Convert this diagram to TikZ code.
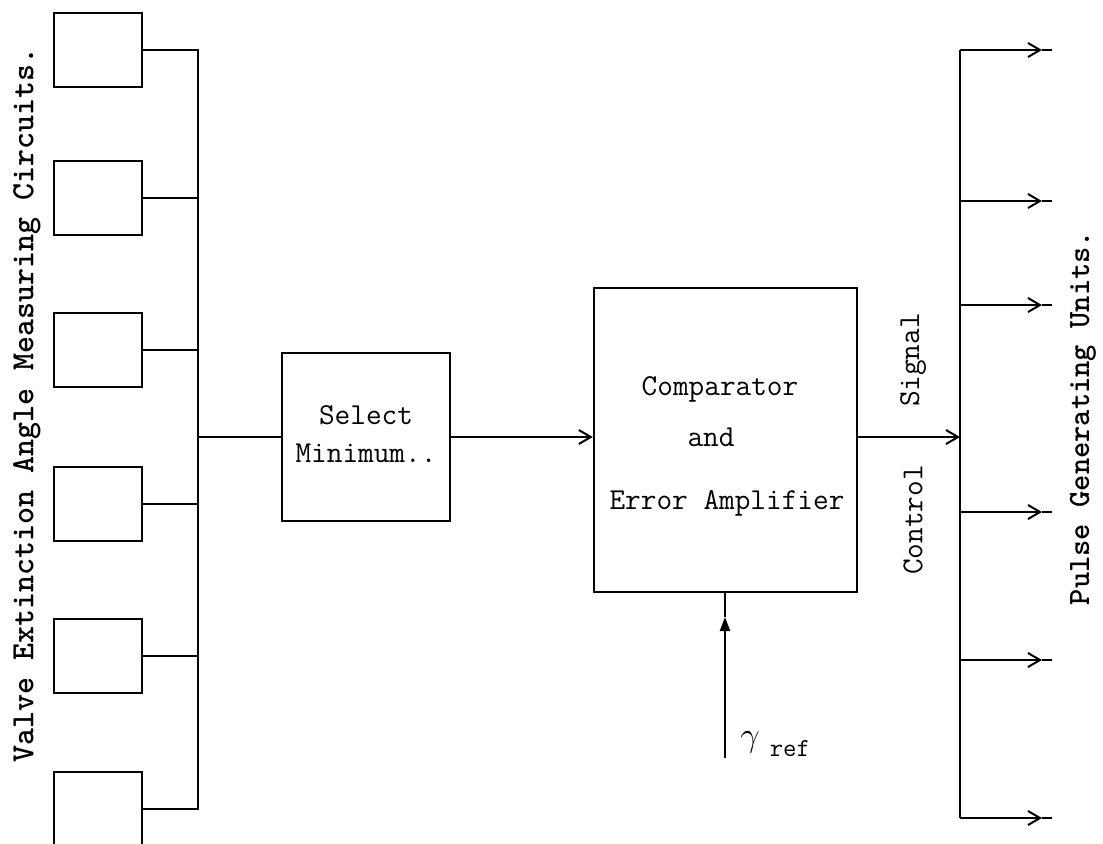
\documentclass[tikz,border=0pt]{standalone}
\usepackage{fontspec}
\usetikzlibrary{arrows.meta}
\begin{document}
\begin{tikzpicture}[x=0.5pt,y=-0.5pt,
  ln/.style={line width=1.1pt},
  blk/.style={draw,line width=1.2pt,minimum width=44pt,minimum height=37pt,inner sep=0pt},
  txt/.style={font=\ttfamily\fontsize{15.2}{19}\selectfont,inner sep=0pt},
  lbl/.style={font=\ttfamily\bfseries\fontsize{16.2}{19}\selectfont,rotate=90,inner sep=0pt},
  barb/.style={-{Straight Barb[length=6pt,width=7pt,line width=1pt]}},
  tri/.style={-{Triangle[length=7pt,width=5pt]}}
]
\useasboundingbox (0,0) rectangle (1103,843);
% left measuring circuits
\node[blk] (b1) at (98,50) {};
\node[blk] (b2) at (98,198) {};
\node[blk] (b3) at (98,350) {};
\node[blk] (b4) at (98,504) {};
\node[blk] (b5) at (98,656) {};
\node[blk] (b6) at (98,809) {};
\coordinate (busx) at (198,0);
\draw[ln] (b1.east) -- (b1.east -| busx) -- (b6.east -| busx) -- (b6.east);
\draw[ln] (b2.east) -- (b2.east -| busx);
\draw[ln] (b3.east) -- (b3.east -| busx);
\draw[ln] (b4.east) -- (b4.east -| busx);
\draw[ln] (b5.east) -- (b5.east -| busx);
% select minimum
\node[draw,line width=1.2pt,minimum width=84pt,minimum height=84pt,inner sep=0pt] (sel) at (366,437) {};
\node[txt,align=center] (seltxt) at (366,434) {Select\\Minimum..};
\draw[ln] (sel.west -| busx) -- (sel.west);
% comparator
\node[draw,line width=1.2pt,minimum width=131.5pt,minimum height=152pt,inner sep=0pt] (comp) at (725.5,440) {};
\node[txt] (c1) at (720,389) {Comparator};
\node[txt] (c2) at (711,437) {and};
\node[txt] (c3) at (727,503) {Error Amplifier};
\draw[ln,barb] (sel.east) -- (sel.east -| comp.west);
% reference input
\coordinate (gbot) at (725,758);
\coordinate (gtip) at (725,617);
\draw[ln,tri] (gbot) -- (gtip);
\draw[ln] (gtip) -- (gtip |- comp.south);
\node[inner sep=0pt,anchor=west] (gref) at (740,744) {{\fontsize{18}{20}\selectfont$\gamma$}\hspace{5pt}\raisebox{-5pt}{\ttfamily\fontsize{13}{15}\selectfont ref}};
% output bus
\coordinate (rbus) at (960,0);
\coordinate (r1) at (960,50);   \coordinate (t1) at (1042,50);  \coordinate (e1) at (1052,50);
\coordinate (r2) at (960,201);  \coordinate (t2) at (1042,201); \coordinate (e2) at (1052,201);
\coordinate (r3) at (960,305);  \coordinate (t3) at (1042,305); \coordinate (e3) at (1052,305);
\coordinate (r4) at (960,512);  \coordinate (t4) at (1042,512); \coordinate (e4) at (1052,512);
\coordinate (r5) at (960,660);  \coordinate (t5) at (1042,660); \coordinate (e5) at (1052,660);
\coordinate (r6) at (960,818);  \coordinate (t6) at (1042,818); \coordinate (e6) at (1052,818);
\draw[ln] (r1) -- (r6);
\foreach \i in {1,...,6}{
  \draw[ln,barb] (r\i) -- (t\i);
  \draw[ln] (t\i) -- (e\i);
}
\draw[ln,barb] (comp.east |- sel.east) -- (sel.east -| rbus);
\node[txt,rotate=90] (ctl) at (913,520) {Control};
\node[txt,rotate=90] (sig) at (913,360) {Signal};
% side labels
\node[lbl] (vl) at (27,405) {Valve Extinction Angle Measuring Circuits.};
\node[lbl,font=\ttfamily\bfseries\fontsize{15.5}{19}\selectfont] (pl) at (1083,418) {Pulse Generating Units.};
\end{tikzpicture}
\end{document}
